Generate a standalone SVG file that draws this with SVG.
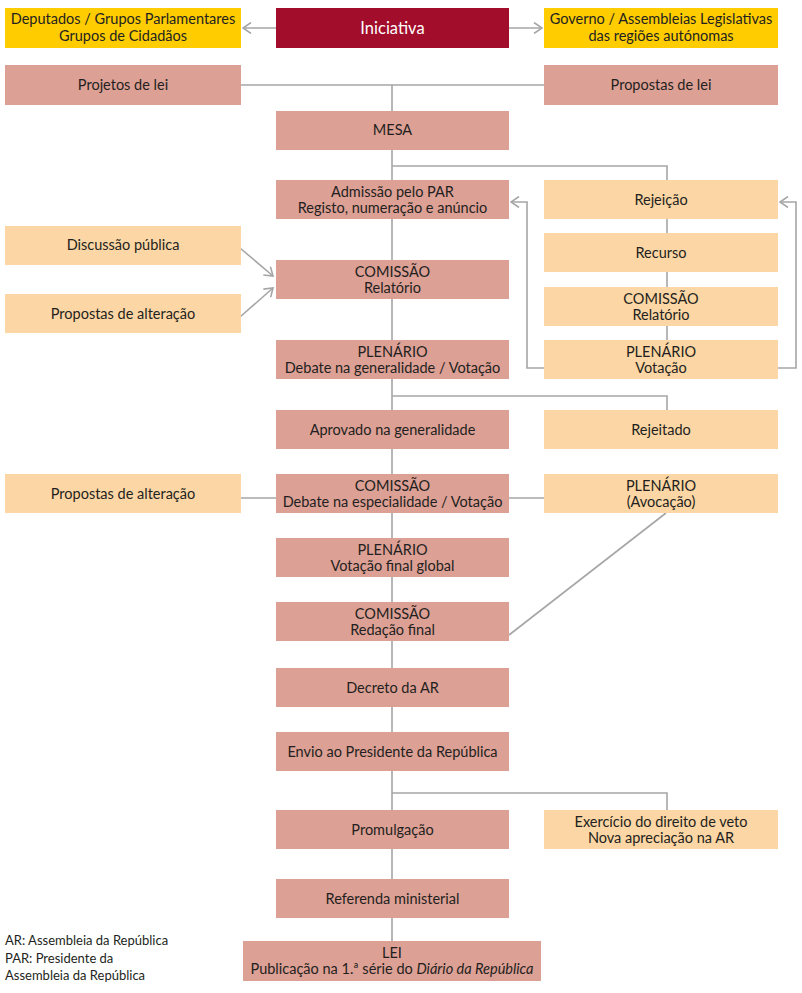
<svg xmlns="http://www.w3.org/2000/svg" width="802" height="993" viewBox="0 0 802 993">
<style>
.p{fill:#DDA095}.y{fill:#FFCC00}.o{fill:#FCD6A4}.r{fill:#A20D2B}
text{font-family:Lato,"Noto Sans",sans-serif;font-size:14.5px;fill:#231F20;text-anchor:middle}
.w{fill:#fff;font-size:16.5px}
.lg{text-anchor:start;font-size:13px}
.c{fill:none;stroke:#A6A6A6;stroke-width:1.6}
</style>
<defs>
<marker id="a" viewBox="0 0 10 12" refX="9" refY="6" markerWidth="10" markerHeight="12" markerUnits="userSpaceOnUse" orient="auto">
<path d="M1,0.5 L9,6 L1,11.5" fill="none" stroke="#A6A6A6" stroke-width="1.6"/>
</marker>
</defs>
<g id="connectors">
<path class="c" d="M276,28 H243" marker-end="url(#a)"/>
<path class="c" d="M509,28 H542" marker-end="url(#a)"/>
<path class="c" d="M241,85 H544 M392,85 V941"/>
<path class="c" d="M392,166 H667 V340"/>
<path class="c" d="M544,368 H527 V202 H511" marker-end="url(#a)"/>
<path class="c" d="M778,368 H796 V202 H780" marker-end="url(#a)"/>
<path class="c" d="M240,248 L273,276" marker-end="url(#a)"/>
<path class="c" d="M240,317 L273,288" marker-end="url(#a)"/>
<path class="c" d="M392,396 H667 V410"/>
<path class="c" d="M241,498 H276 M509,498 H544"/>
<path class="c" d="M666,513 L509,635"/>
<path class="c" d="M392,793 H667 V810"/>
</g>
<g id="deputados"><rect class="y" x="5" y="8" width="236" height="40"/><text x="123" y="24">Deputados / Grupos Parlamentares</text><text x="123" y="41">Grupos de Cidadãos</text></g>
<g id="iniciativa"><rect class="r" x="276" y="8" width="233" height="40"/><text class="w" x="392.5" y="34">Iniciativa</text></g>
<g id="governo"><rect class="y" x="544" y="8" width="234" height="40"/><text x="661" y="24">Governo / Assembleias Legislativas</text><text x="661" y="41">das regiões autónomas</text></g>
<g id="projetos"><rect class="p" x="5" y="65" width="236" height="40"/><text x="123" y="90">Projetos de lei</text></g>
<g id="propostas"><rect class="p" x="544" y="65" width="234" height="40"/><text x="661" y="90">Propostas de lei</text></g>
<g id="mesa"><rect class="p" x="276" y="111" width="233" height="39"/><text x="392.5" y="135">MESA</text></g>
<g id="admissao"><rect class="p" x="276" y="180" width="233" height="39"/><text x="392.5" y="197">Admissão pelo PAR</text><text x="392.5" y="213">Registo, numeração e anúncio</text></g>
<g id="discussao"><rect class="o" x="5" y="226" width="236" height="39"/><text x="123" y="250">Discussão pública</text></g>
<g id="comissao1"><rect class="p" x="276" y="260" width="233" height="39"/><text x="392.5" y="277">COMISSÃO</text><text x="392.5" y="293">Relatório</text></g>
<g id="alteracao1"><rect class="o" x="5" y="294" width="236" height="39"/><text x="123" y="319">Propostas de alteração</text></g>
<g id="plenario1"><rect class="p" x="276" y="340" width="233" height="39"/><text x="392.5" y="357">PLENÁRIO</text><text x="392.5" y="373">Debate na generalidade / Votação</text></g>
<g id="rejeicao"><rect class="o" x="544" y="180" width="234" height="39"/><text x="661" y="205">Rejeição</text></g>
<g id="recurso"><rect class="o" x="544" y="233" width="234" height="39"/><text x="661" y="258">Recurso</text></g>
<g id="comissao2"><rect class="o" x="544" y="287" width="234" height="39"/><text x="661" y="304">COMISSÃO</text><text x="661" y="320">Relatório</text></g>
<g id="plenario2"><rect class="o" x="544" y="340" width="234" height="39"/><text x="661" y="357">PLENÁRIO</text><text x="661" y="373">Votação</text></g>
<g id="aprovado"><rect class="p" x="276" y="410" width="233" height="39"/><text x="392.5" y="435">Aprovado na generalidade</text></g>
<g id="rejeitado"><rect class="o" x="544" y="410" width="234" height="39"/><text x="661" y="435">Rejeitado</text></g>
<g id="alteracao2"><rect class="o" x="5" y="474" width="236" height="39"/><text x="123" y="499">Propostas de alteração</text></g>
<g id="comissao3"><rect class="p" x="276" y="474" width="233" height="39"/><text x="392.5" y="491">COMISSÃO</text><text x="392.5" y="507">Debate na especialidade / Votação</text></g>
<g id="avocacao"><rect class="o" x="544" y="474" width="234" height="39"/><text x="661" y="491">PLENÁRIO</text><text x="661" y="507">(Avocação)</text></g>
<g id="plenario3"><rect class="p" x="276" y="538" width="233" height="39"/><text x="392.5" y="555">PLENÁRIO</text><text x="392.5" y="571">Votação final global</text></g>
<g id="comissao4"><rect class="p" x="276" y="602" width="233" height="39"/><text x="392.5" y="619">COMISSÃO</text><text x="392.5" y="635">Redação final</text></g>
<g id="decreto"><rect class="p" x="276" y="668" width="233" height="39"/><text x="392.5" y="693">Decreto da AR</text></g>
<g id="envio"><rect class="p" x="276" y="732" width="233" height="39"/><text x="392.5" y="757">Envio ao Presidente da República</text></g>
<g id="promulgacao"><rect class="p" x="276" y="810" width="233" height="39"/><text x="392.5" y="835">Promulgação</text></g>
<g id="veto"><rect class="o" x="544" y="810" width="234" height="39"/><text x="661" y="827">Exercício do direito de veto</text><text x="661" y="843">Nova apreciação na AR</text></g>
<g id="referenda"><rect class="p" x="276" y="879" width="233" height="39"/><text x="392.5" y="904">Referenda ministerial</text></g>
<g id="lei"><rect class="p" x="243" y="941" width="298" height="40"/><text x="392" y="958">LEI</text><text x="392" y="974">Publicação na 1.ª série do <tspan font-style="italic">Diário da República</tspan></text></g>
<g id="legenda">
<text class="lg" x="5" y="945">AR: Assembleia da República</text>
<text class="lg" x="5" y="963">PAR: Presidente da</text>
<text class="lg" x="5" y="980">Assembleia da República</text>
</g>
</svg>
